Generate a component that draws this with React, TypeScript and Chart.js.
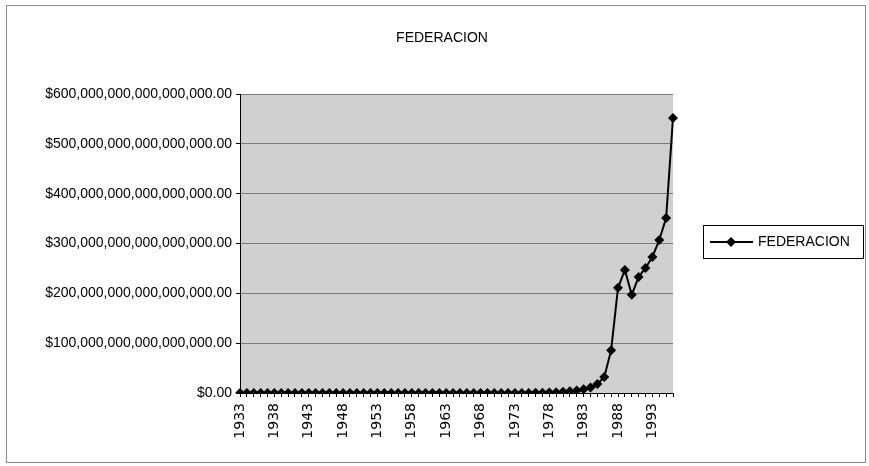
import React, { useEffect, useRef } from "react";
import { Chart, registerables } from "chart.js";

Chart.register(...registerables);

const chartTitle = "FEDERACION";
const seriesLabel = "FEDERACION";

const years = [
  "1933", "1934", "1935", "1936", "1937", "1938", "1939", "1940", "1941", "1942",
  "1943", "1944", "1945", "1946", "1947", "1948", "1949", "1950", "1951", "1952",
  "1953", "1954", "1955", "1956", "1957", "1958", "1959", "1960", "1961", "1962",
  "1963", "1964", "1965", "1966", "1967", "1968", "1969", "1970", "1971", "1972",
  "1973", "1974", "1975", "1976", "1977", "1978", "1979", "1980", "1981", "1982",
  "1983", "1984", "1985", "1986", "1987", "1988", "1989", "1990", "1991", "1992",
  "1993", "1994", "1995", "1996",
];

// values in pesos (in units of 1e15)
const federacion = [
  0, 0, 0, 0, 0, 0, 0, 0, 0, 0,
  0, 0, 0, 0, 0, 0, 0, 0, 0, 0,
  0, 0, 0, 0, 0, 0, 0, 0, 0, 0,
  0, 0, 0, 0, 0, 0, 0, 0, 0, 0,
  0, 0, 0.2e15, 0.4e15, 0.7e15, 1e15, 1.5e15, 2.3e15, 3.5e15, 5e15,
  7.5e15, 11e15, 18e15, 32e15, 86e15, 211e15, 247e15, 197e15, 233e15, 251e15,
  273e15, 307e15, 351e15, 552e15,
];

const yMin = 0;
const yMax = 6e17;
const yStep = 1e17;

const FONT = "'Liberation Sans', Arial, sans-serif";
const XFONT = "'DejaVu Sans', sans-serif";

export default function App() {
  const ref = useRef<HTMLCanvasElement | null>(null);

  useEffect(() => {
    if (!ref.current) return;
    const bgPlugin = {
      id: "bg",
      beforeDraw(chart: any) {
        const { ctx, chartArea } = chart;
        ctx.save();
        ctx.fillStyle = "#ffffff";
        ctx.fillRect(0, 0, chart.width, chart.height);
        ctx.strokeStyle = "#8a8a8a";
        ctx.lineWidth = 1;
        ctx.strokeRect(6.5, 5.5, 859, 457);
        ctx.fillStyle = "#d0d0d0";
        ctx.fillRect(chartArea.left, chartArea.top, chartArea.right - chartArea.left, chartArea.bottom - chartArea.top);
        ctx.restore();
      },
      afterDraw(chart: any) {
        const { ctx } = chart;
        ctx.save();
        ctx.strokeStyle = "#000";
        ctx.lineWidth = 1;
        ctx.strokeRect(703.5, 225.5, 160, 33);
        ctx.lineWidth = 2;
        ctx.beginPath();
        ctx.moveTo(710, 242);
        ctx.lineTo(753, 242);
        ctx.stroke();
        ctx.fillStyle = "#000";
        ctx.beginPath();
        ctx.moveTo(731, 237);
        ctx.lineTo(736, 242);
        ctx.lineTo(731, 247);
        ctx.lineTo(726, 242);
        ctx.closePath();
        ctx.fill();
        ctx.font = "14px " + FONT;
        ctx.textBaseline = "middle";
        ctx.textAlign = "left";
        ctx.fillText(seriesLabel, 758, 242);
        ctx.restore();
      },
    };

    const chart = new Chart(ref.current, {
      type: "line",
      data: {
        labels: years,
        datasets: [
          {
            label: seriesLabel,
            data: federacion,
            borderColor: "#000",
            backgroundColor: "#000",
            borderWidth: 2,
            pointStyle: "rectRot",
            pointRadius: 5,
            pointBackgroundColor: "#000",
            pointBorderColor: "#000",
            pointBorderWidth: 0,
            tension: 0,
          },
        ],
      },
      options: {
        responsive: false,
        animation: false,
        devicePixelRatio: 1,
        layout: { padding: { left: 15, right: 0, top: 0, bottom: 0 } },
        plugins: {
          legend: { display: false },
          tooltip: { enabled: false },
          title: {
            display: true,
            text: chartTitle,
            color: "#000",
            font: { family: FONT, size: 14, weight: "normal" },
            padding: { top: 30, bottom: 47.2 },
          },
        },
        scales: {
          x: {
            type: "category",
            offset: false,
            grid: { display: true, drawOnChartArea: false, drawTicks: true, tickLength: 4, color: "#000" },
            border: { display: true, color: "#000", width: 1 },
            ticks: {
              autoSkip: false,
              minRotation: 90,
              maxRotation: 90,
              padding: 6,
              color: "#000",
              font: { family: XFONT, size: 14 },
              callback: (_v: any, i: number) => (i % 5 === 0 ? years[i] : ""),
            },
            afterFit: (s: any) => {
              s.height = 73;
            },
          },
          y: {
            type: "linear",
            min: yMin,
            max: yMax,
            grid: { color: "#7a7a7a", lineWidth: 1, drawTicks: true, tickLength: 4, tickColor: "#000" },
            border: { display: true, color: "#000", width: 1 },
            ticks: {
              stepSize: yStep,
              padding: 4,
              color: "#000",
              font: { family: FONT, size: 14 },
              callback: (v: any) =>
                "$" + Number(v).toLocaleString("en-US", { minimumFractionDigits: 2, maximumFractionDigits: 2 }),
            },
            afterFit: (s: any) => {
              s.width = 225;
            },
          },
          y2: {
            type: "linear",
            position: "right",
            display: true,
            grid: { display: false },
            border: { display: false },
            ticks: { display: false },
            afterFit: (s: any) => {
              s.width = 196;
            },
          },
        },
      },
      plugins: [bgPlugin],
    } as any);
    return () => chart.destroy();
  }, []);

  return (
    <div style={{ position: "fixed", left: 0, top: 0, width: 869, height: 466 }}>
      <canvas ref={ref} width={869} height={466} style={{ width: 869, height: 466, display: "block" }} />
    </div>
  );
}
